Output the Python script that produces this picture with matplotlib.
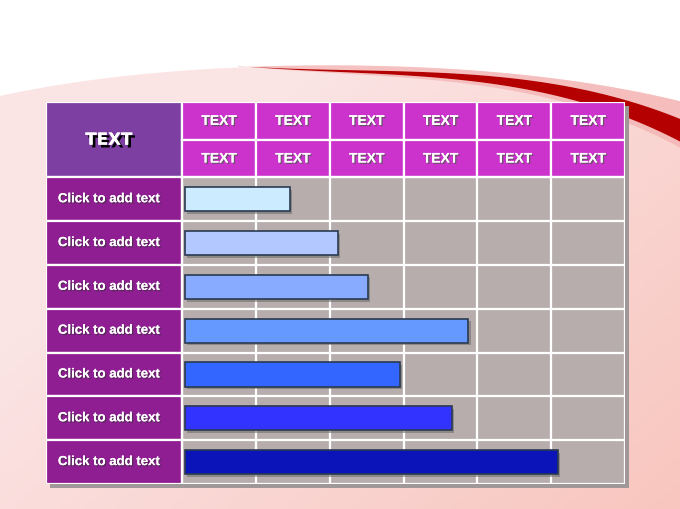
import matplotlib.pyplot as plt
import matplotlib.patheffects as pe
import numpy as np
from matplotlib.patches import Rectangle, Polygon

# data
col_headers_top = ["TEXT"] * 6
col_headers_bottom = ["TEXT"] * 6
row_labels = ["Click to add text"] * 7
bar_start = [0.04] * 7
bar_end = [1.46, 2.11, 2.52, 3.88, 2.95, 3.66, 5.09]
bar_colors = ["#CCEBFF", "#B3C8FF", "#88AAFF", "#6699FF", "#3366FF", "#3333FF", "#0A14B8"]

W, H = 680, 510
fig = plt.figure(figsize=(W / 100, H / 100), dpi=100)

# background
bg = fig.add_axes([0, 0, 1, 1])
bg.set_xlim(0, W)
bg.set_ylim(H, 0)
bg.axis("off")
gx, gy = np.meshgrid(np.linspace(0, 1, 200), np.linspace(0, 1, 150))
t = np.clip(0.6 * gx + 0.5 * gy - 0.35, 0, 1)
c0 = np.array([251, 228, 228]) / 255
c1 = np.array([247, 188, 178]) / 255
img = c0[None, None, :] * (1 - t[..., None]) + c1[None, None, :] * t[..., None]
bg.imshow(img, extent=[0, W, H, 0], aspect="auto", zorder=0)

# white top with curved edge, red swoosh on the right
def smooth(px, py, x, deg=3):
    return np.polyval(np.polyfit(px, py, deg), x)

xs = np.linspace(0, W, 400)
edge = smooth([0, 100, 180, 240, 330, 450, 600, 680], [96, 80, 71, 67, 66, 70, 85, 102], xs, 4)
xr = np.linspace(238, W, 300)
red_top = smooth([238, 330, 400, 450, 600, 680], [67, 69, 72, 75, 93, 120], xr)
red_bot = smooth([238, 330, 400, 450, 600, 680], [67, 70.5, 75, 82, 107, 143], xr)
edge_r = np.minimum(smooth([0, 100, 180, 240, 330, 450, 600, 680], [96, 80, 71, 67, 66, 70, 85, 102], xr, 4), red_top)
bg.add_patch(Polygon(np.column_stack([np.r_[xs, W, 0], np.r_[edge, 0, 0]]),
                     closed=True, color="white", zorder=1))
bg.fill_between(xr, edge_r, red_top, color="#F4B6B6", alpha=0.75, lw=0, zorder=2)
bg.fill_between(xr, red_top, red_bot, color="#B40000", lw=0, zorder=3)
bg.fill_between(xr, red_bot, red_bot + 6 * (xr - 238) / 442, color="#F2A8A8",
                alpha=0.6, lw=0, zorder=2)

# table axes
left_w = 136 / 73.8
hdr_h = 0.86
ax = fig.add_axes([46 / W, 1 - 485 / H, 579 / W, 382 / H])
ax.set_xlim(-left_w, 6)
ax.set_ylim(7, -2 * hdr_h)
ax.axis("off")
ax.patch.set_alpha(0)

shadow = dict(facecolor="#A09898", edgecolor="none", zorder=1, clip_on=False)
ax.add_patch(Rectangle((-left_w + 0.06, -2 * hdr_h + 0.1), 6 + left_w, 7 + 2 * hdr_h, **shadow))

lw = 1.6
font = "Liberation Sans"
lab_x = -left_w / 2 - 0.07
ax.add_patch(Rectangle((0, 0), 6, 7, facecolor="#B8ADAD", edgecolor="none", zorder=2))
ax.add_patch(Rectangle((-left_w, -2 * hdr_h), left_w, 2 * hdr_h, facecolor="#7E3FA3",
                       edgecolor="white", lw=lw, zorder=3))
for i in range(6):
    for j, lab in enumerate([col_headers_top[i], col_headers_bottom[i]]):
        y0 = -2 * hdr_h + j * hdr_h
        ax.add_patch(Rectangle((i, y0), 1, hdr_h, facecolor="#CC33CC",
                               edgecolor="white", lw=lw, zorder=3))
        ax.text(i + 0.5, y0 + hdr_h / 2, lab, color="white", fontsize=10, fontweight="bold",
                family=font, ha="center", va="center", zorder=5,
                path_effects=[pe.withSimplePatchShadow(offset=(1, -1), shadow_rgbFace="#555555", alpha=0.8), pe.Normal()])
ax.text(lab_x, -hdr_h, "TEXT", color="white", fontsize=12, fontweight="heavy",
        family="DejaVu Sans", ha="center", va="center", zorder=5,
        path_effects=[pe.withSimplePatchShadow(offset=(2, -2), shadow_rgbFace="black", alpha=1), pe.Normal()])

for r, lab in enumerate(row_labels):
    ax.add_patch(Rectangle((-left_w, r), left_w, 1, facecolor="#8E1E92",
                           edgecolor="white", lw=lw, zorder=3))
    ax.text(lab_x, r + 0.5, lab, color="white", fontsize=9.5, fontweight="bold",
            family=font, ha="center", va="center", zorder=5,
            path_effects=[pe.withSimplePatchShadow(offset=(1, -1), shadow_rgbFace="#333333", alpha=0.6), pe.Normal()])

for k in range(1, 6):
    ax.plot([k, k], [0, 7], color="white", lw=lw, zorder=3)
for r in range(1, 7):
    ax.plot([0, 6], [r, r], color="white", lw=lw, zorder=3)
ax.add_patch(Rectangle((0, 0), 6, 7, facecolor="none", edgecolor="white", lw=lw, zorder=3))

bh = 0.55
for r in range(7):
    ax.add_patch(Rectangle((bar_start[r] + 0.03, r + 0.5 - bh / 2 + 0.06), bar_end[r] - bar_start[r], bh,
                           facecolor="#707070", edgecolor="none", alpha=0.6, zorder=4))
    ax.add_patch(Rectangle((bar_start[r], r + 0.5 - bh / 2), bar_end[r] - bar_start[r], bh,
                           facecolor=bar_colors[r], edgecolor="#2A3A50", lw=1.2, zorder=4))

fig.savefig("out.png", dpi=100)
